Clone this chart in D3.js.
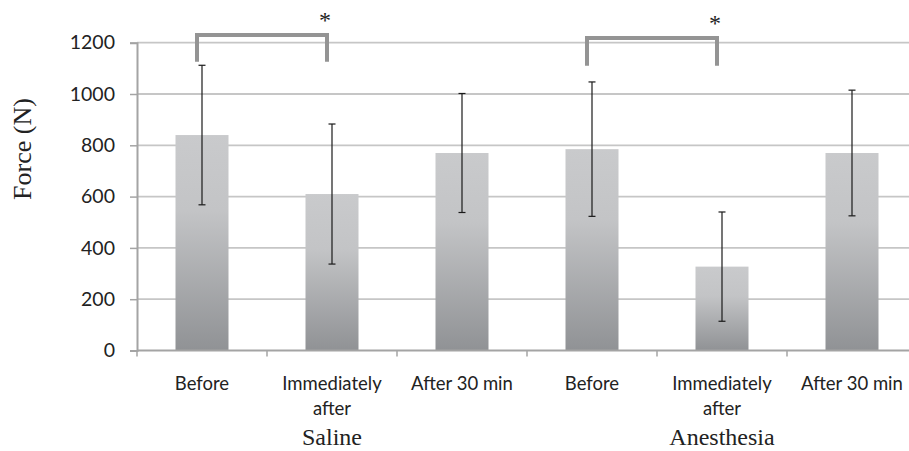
<!DOCTYPE html>
<html lang="en">
<head>
<meta charset="UTF-8">
<title>Force before and after</title>
<script src="https://d3js.org/d3.v7.min.js"></script>
<style>
    body { margin: 0; background: #fff; }
    .tick-label { font-family: Lato, "Open Sans", sans-serif; fill: #222; }
    .serif { font-family: "Liberation Serif", "DejaVu Serif", serif; fill: #222; }
</style>
</head>
<body>
<svg width="909" height="451"></svg>
<script>
    // chart data
    const groups = ["Saline", "Anesthesia"];
    const times = ["Before", "Immediately after", "After 30 min"];
    const means = [840, 610, 770, 785, 327, 770];
    const errors = [272, 273, 232, 262, 213, 245];
    const yTicks = [0, 200, 400, 600, 800, 1000, 1200];
    // significance: pairs of bar indices
    const sigPairs = [[0, 1], [3, 4]];
    const sigLevels = [[1230, 1126], [1218, 1110]];

    const svg = d3.select("svg");
    const plot = {left: 137, right: 917, top: 42.7, bottom: 350.5};

    const bars = means.map((m, i) => ({ key: i, mean: m, err: errors[i], label: times[i % 3] }));

    const x = d3.scaleBand().domain(bars.map(d => d.key)).range([plot.left, plot.right]).paddingInner(0).paddingOuter(0);
    const y = d3.scaleLinear().domain([0, 1200]).range([plot.bottom, plot.top]);

    // gradient for bars
    const grad = svg.append("defs").append("linearGradient")
        .attr("id", "barGrad").attr("x1", 0).attr("y1", 0).attr("x2", 0).attr("y2", 1);
    grad.append("stop").attr("offset", "0%").attr("stop-color", "#c9cacc");
    grad.append("stop").attr("offset", "35%").attr("stop-color", "#c3c4c6");
    grad.append("stop").attr("offset", "100%").attr("stop-color", "#909295");

    // gridlines
    svg.append("g").selectAll("line")
        .data(yTicks.filter(t => t > 0))
        .join("line")
        .attr("x1", plot.left).attr("x2", plot.right)
        .attr("y1", d => y(d)).attr("y2", d => y(d))
        .attr("stroke", "#c6c6c6").attr("stroke-width", 1.8);

    // y axis
    const yAxis = svg.append("g")
        .attr("transform", "translate(" + plot.left + ",0)")
        .call(d3.axisLeft(y).tickValues(yTicks).tickSize(7).tickPadding(15).tickFormat(d3.format("d")));
    yAxis.select(".domain").attr("stroke", "#a4a4a4").attr("stroke-width", 2);
    yAxis.selectAll(".tick line").attr("stroke", "#a4a4a4").attr("stroke-width", 1.5);
    yAxis.selectAll(".tick text").attr("class", "tick-label").attr("font-size", 19.5).attr("fill", "#222");

    // bars
    const barW = 53;
    svg.append("g").selectAll("rect")
        .data(bars)
        .join("rect")
        .attr("x", d => x(d.key) + x.bandwidth() / 2 - barW / 2)
        .attr("width", barW)
        .attr("y", d => y(d.mean))
        .attr("height", d => y(0) - y(d.mean))
        .attr("fill", "url(#barGrad)");

    // error bars
    const eb = svg.append("g").attr("stroke", "#1a1a1a").attr("stroke-width", 1.2);
    bars.forEach(d => {
        const cx = x(d.key) + x.bandwidth() / 2;
        eb.append("line").attr("x1", cx).attr("x2", cx)
            .attr("y1", y(d.mean + d.err)).attr("y2", y(d.mean - d.err));
        [d.mean + d.err, d.mean - d.err].forEach(v => {
            eb.append("line").attr("x1", cx - 3.5).attr("x2", cx + 3.5)
                .attr("y1", y(v)).attr("y2", y(v));
        });
    });

    // x axis line and ticks
    svg.append("line").attr("x1", plot.left).attr("x2", plot.right)
        .attr("y1", plot.bottom).attr("y2", plot.bottom)
        .attr("stroke", "#a4a4a4").attr("stroke-width", 2);
    svg.append("g").selectAll("line")
        .data(d3.range(bars.length + 1))
        .join("line")
        .attr("x1", i => plot.left + i * x.bandwidth()).attr("x2", i => plot.left + i * x.bandwidth())
        .attr("y1", plot.bottom).attr("y2", plot.bottom + 6)
        .attr("stroke", "#a4a4a4").attr("stroke-width", 1.5);

    // category labels
    const lab = svg.append("g");
    bars.forEach(d => {
        const cx = x(d.key) + x.bandwidth() / 2;
        const words = d.label === "Immediately after" ? ["Immediately", "after"] : [d.label];
        words.forEach((w, j) => {
            lab.append("text").attr("class", "tick-label")
                .attr("x", cx).attr("y", 390 + j * 25)
                .attr("text-anchor", "middle").attr("font-size", 18.5)
                .text(w);
        });
    });

    // group labels
    groups.forEach((g, gi) => {
        const cx = x(gi * 3 + 1) + x.bandwidth() / 2;
        svg.append("text").attr("class", "serif")
            .attr("x", cx).attr("y", 445)
            .attr("text-anchor", "middle").attr("font-size", 24)
            .text(g);
    });

    // y axis title
    svg.append("text").attr("class", "serif")
        .attr("transform", "translate(31,149) rotate(-90)")
        .attr("text-anchor", "middle").attr("font-size", 26)
        .text("Force (N)");

    // significance brackets
    const br = svg.append("g");
    sigPairs.forEach((p, k) => {
        const xa = x(p[0]) + x.bandwidth() / 2 - 5;
        const xb = x(p[1]) + x.bandwidth() / 2 - 5;
        const yt = y(sigLevels[k][0]), yb = y(sigLevels[k][1]);
        br.append("path")
            .attr("d", "M" + xa + "," + yb + "V" + yt + "H" + xb + "V" + yb)
            .attr("fill", "none").attr("stroke", "#949494").attr("stroke-width", 4);
        br.append("text").attr("class", "serif")
            .attr("x", xb - 2).attr("y", yt - 7)
            .attr("text-anchor", "middle").attr("font-size", 24)
            .text("*");
    });
</script>
</body>
</html>
